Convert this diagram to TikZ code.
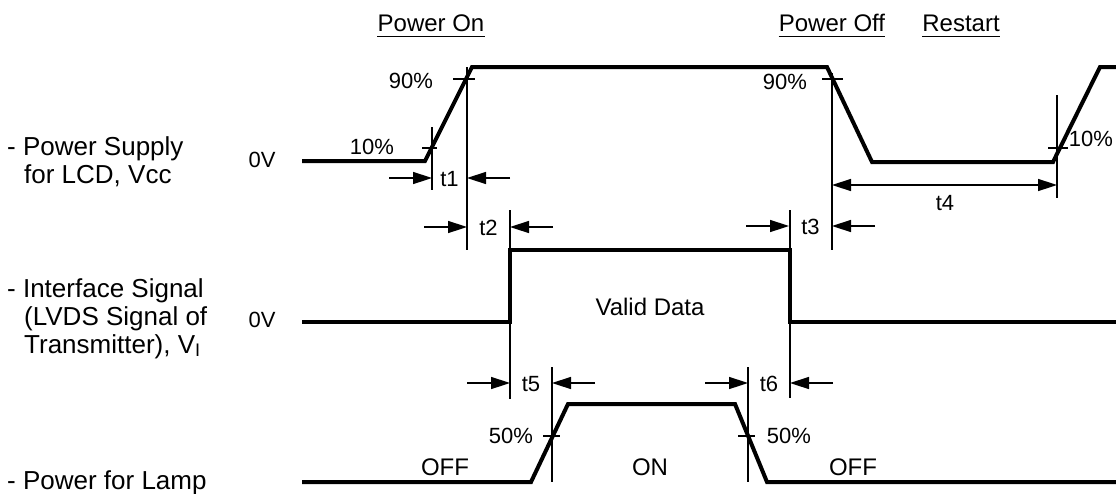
\documentclass[tikz,border=0pt]{standalone}
\usepackage{fontspec}
\setmainfont{Liberation Sans}
\usetikzlibrary{arrows.meta}
\tikzset{
  wave/.style={line width=4pt,line join=miter},
  guide/.style={line width=1.5pt},
  lbl/.style={font=\fontsize{26}{30}\selectfont,anchor=base west,inner sep=0pt},
  txt/.style={font=\fontsize{24}{28}\selectfont,anchor=base,inner sep=0pt},
  small/.style={font=\fontsize{22}{26}\selectfont,anchor=base,inner sep=0pt}
}
\begin{document}
\begin{tikzpicture}[x=1pt,y=-1pt,>={Triangle[length=19pt,width=12pt]}]
    \useasboundingbox (0,0) rectangle (1116,493);
    % phase headings
    \node[txt] (hon) at (431,31) {Power On};
    \node[txt] (hoff) at (832,31) {Power Off};
    \node[txt] (hrst) at (961,31) {Restart};
    \foreach \h in {hon,hoff,hrst}{
        \draw[line width=1.5pt] ([yshift=-5pt]\h.south west) -- ([yshift=-5pt]\h.south east);
    }
    % signal names
    \node[lbl] (vcc1) at (7,155) {- Power Supply};
    \node[lbl] (vcc2) at (24,183) {for LCD, Vcc};
    \node[lbl] (vi1) at (7,297) {- Interface Signal};
    \node[lbl] (vi2) at (24,325) {(LVDS Signal of};
    \node[lbl] (vi3) at (24,353) {Transmitter), V\textsubscript{I}};
    \node[lbl] (lamp) at (7,489) {- Power for Lamp};
    % waveforms
    \draw[wave] (302,161) -- (425,161) -- (472,67) -- (827,67) -- (872,162)
        -- (1053,162) -- (1100,67) -- (1118,67);
    \draw[wave] (302,322) -- (510,322) -- (510,250) -- (790,250) -- (790,322) -- (1118,322);
    \draw[wave] (302,482) -- (531,482) -- (568,404) -- (735,404) -- (767,482) -- (1118,482);
    % guide lines and level ticks
    \foreach \x/\ya/\yb in {432/127/190, 467/67/250, 510/210/399, 552/367/482,
                            748/367/482, 790/210/398, 832/73/250, 1057/95/198}{
        \draw[guide] (\x,\ya) -- (\x,\yb);
    }
    \foreach \xa/\xb/\y in {453/475/79, 422/437/148, 822/843/79, 1048/1068/148,
                            543/560/436, 738/755/436}{
        \draw[guide] (\xa,\y) -- (\xb,\y);
    }
    % timing marks
    \foreach \xa/\xb/\y/\n in {432/467/178/1, 467/510/227/2, 789/832/226/3,
                               510/552/383/5, 748/790/383/6}{
        \draw[guide,->] (\xa-43,\y) -- (\xa,\y);
        \draw[guide,->] (\xb+43,\y) -- (\xb,\y);
        \node[small] (t\n) at ({(\xa+\xb)/2},\y+8) {t\n};
    }
    \draw[guide,<->] (832,185) -- (1057,185);
    \node[small] (t4) at (945,210) {t4};
    % levels
    \node[small] (z1) at (262,167) {0V};
    \node[small] (z2) at (262,327) {0V};
    \node[small] (p10a) at (372,154) {10\%};
    \node[small] (p90a) at (411,88) {90\%};
    \node[small] (p90b) at (785,89) {90\%};
    \node[small] (p10b) at (1091,146) {10\%};
    \node[small] (p50a) at (511,443) {50\%};
    \node[small] (p50b) at (789,443) {50\%};
    \node[txt] (valid) at (650,315) {Valid Data};
    \node[txt] (off1) at (445,475) {OFF};
    \node[txt] (on) at (650,475) {ON};
    \node[txt] (off2) at (853,475) {OFF};
\end{tikzpicture}
\end{document}
